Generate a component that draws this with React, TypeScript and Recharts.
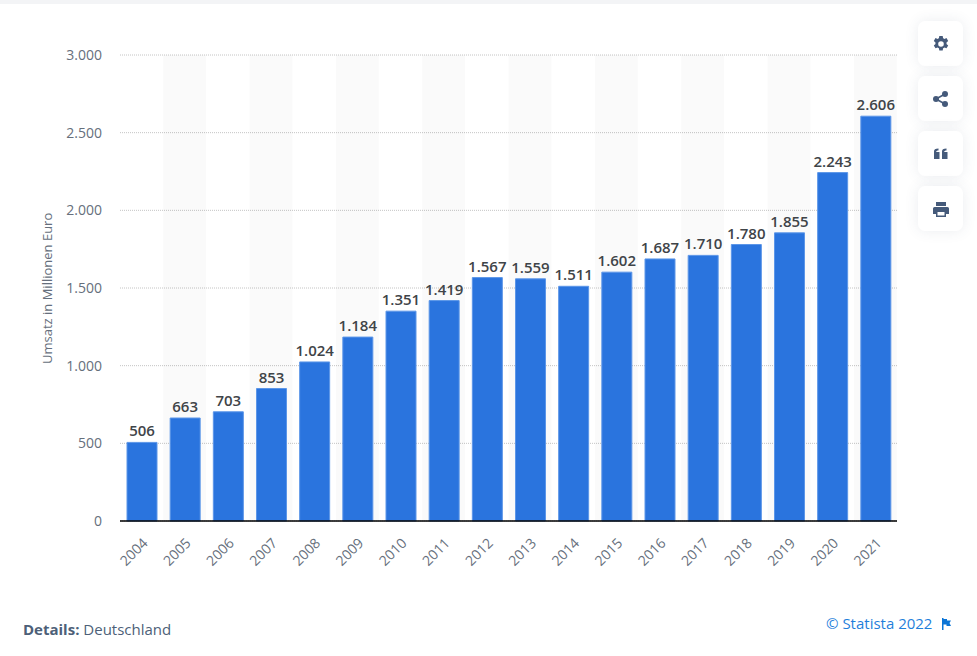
import React from 'react'
import { BarChart, Bar, XAxis, YAxis, CartesianGrid, LabelList } from 'recharts'

const years = ['2004', '2005', '2006', '2007', '2008', '2009', '2010', '2011', '2012', '2013', '2014', '2015', '2016', '2017', '2018', '2019', '2020', '2021']
const revenue = [506, 663, 703, 853, 1024, 1184, 1351, 1419, 1567, 1559, 1511, 1602, 1687, 1710, 1780, 1855, 2243, 2606]
const yTicks = [0, 500, 1000, 1500, 2000, 2500, 3000]
const yMax = 3000

const font = '"Open Sans", sans-serif'
const formatDe = (v: number) => v.toLocaleString('de-DE')

// every second year gets the pale background band
const data = years.map((year, i) => ({
  year,
  revenue: revenue[i],
  stripe: i % 2 === 1 ? yMax : null,
}))

const buttonIcons = [
  // gear
  <path key="gear" fillRule="evenodd" d="M7.3 0h3.4l.4 2.2c.5.2.9.4 1.3.7l2.1-.8 1.7 2.9-1.7 1.400a5 5 0 0 1 0 1.600l1.700 1.400-1.700 2.900-2.100-.8c-.4.3-.8.5-1.300.7l-.4 2.200H7.300l-.4-2.200c-.5-.2-.9-.4-1.300-.7l-2.100.8-1.700-2.900 1.700-1.400a5 5 0 0 1 0-1.600L1.800 5l1.700-2.900 2.100.8c.4-.3.8-.5 1.300-.7zM9 5.200a2.800 2.800 0 1 0 0 5.600 2.800 2.800 0 0 0 0-5.600z" />,
  // share
  <g key="share">
    <circle cx="4" cy="8" r="3" />
    <circle cx="13" cy="3" r="3" />
    <circle cx="13" cy="13" r="3" />
    <path d="M4 8l9-5M4 8l9 5" stroke="#455a7a" strokeWidth="1.6" />
  </g>,
  // quote
  <path key="quote" d="M2 5.500C2 3.800 3.200 2.500 6.500 2.500v2c-1.500 0-2.300.5-2.300 1.500H7.500v7H2zM10 5.500C10 3.800 11.200 2.500 14.500 2.500v2c-1.500 0-2.300.5-2.300 1.500h3.300v7H10z" />,
  // print
  <path key="print" fillRule="evenodd" d="M4 1h10v4H4zM2.500 6h13A1.500 1.500 0 0 1 17 7.500V13h-3v3H4v-3H1V7.500A1.500 1.500 0 0 1 2.500 6zM5.500 11v3.500h7V11z" />,
]
const buttonTops = [21, 76, 131, 186]

const App = () => {
  return (
    <div style={{ position: 'absolute', left: 0, top: 0, width: 977, height: 656, background: '#fff', overflow: 'hidden', fontFamily: font }}>
      {/* Grey strip above the card */}
      <div style={{ position: 'absolute', left: 0, top: 0, width: 977, height: 4, background: '#f3f4f6' }} />

      <BarChart
        width={977}
        height={656}
        data={data}
        margin={{ top: 55, right: 80, bottom: 105, left: 0 }}
        barCategoryGap="30%"
        style={{ position: 'absolute', left: 0, top: 0 }}
      >
        <CartesianGrid vertical={false} stroke="#c4c4c4" strokeDasharray="1 1" />
        <XAxis
          dataKey="year"
          interval={0}
          tickSize={0}
          tickMargin={16}
          angle={-45}
          textAnchor="end"
          axisLine={{ stroke: '#000', strokeWidth: 1.5 }}
          tick={{ fontFamily: font, fontSize: 14, fill: '#666f7c' }}
        />
        <XAxis xAxisId="bands" dataKey="year" hide />
        <YAxis
          width={120}
          domain={[0, yMax]}
          ticks={yTicks}
          interval={0}
          tickSize={0}
          tickMargin={18}
          axisLine={false}
          tickFormatter={formatDe}
          tick={{ fontFamily: font, fontSize: 14, fill: '#666f7c' }}
          label={{
            value: 'Umsatz in Millionen Euro',
            angle: -90,
            position: 'insideLeft',
            dx: 42,
            dy: 76,
            style: { fontFamily: font, fontSize: 13, fill: '#666f7c' },
          }}
        />
        <Bar xAxisId="bands" dataKey="stripe" barSize={43} fill="#000" fillOpacity={0.02} isAnimationActive={false} />
        <Bar dataKey="revenue" fill="#2a74de" stroke="#5c96e8" strokeWidth={1} barSize={30} isAnimationActive={false}>
          <LabelList
            dataKey="revenue"
            position="top"
            offset={6}
            formatter={formatDe}
            style={{ fontFamily: font, fontSize: 15, fontWeight: 600, fill: '#3f4448' }}
          />
        </Bar>
      </BarChart>

      {/* Side buttons */}
      {buttonTops.map((top, i) => (
        <div
          key={top}
          style={{
            position: 'absolute',
            left: 918,
            top,
            width: 45,
            height: 45,
            borderRadius: 7,
            background: '#fff',
            boxShadow: '0 0 14px rgba(60, 80, 110, 0.10)',
            display: 'flex',
            alignItems: 'center',
            justifyContent: 'center',
          }}
        >
          <svg width="18" height="16" viewBox="0 0 18 16" fill="#455a7a">
            {buttonIcons[i]}
          </svg>
        </div>
      ))}

      {/* Footer */}
      <div style={{ position: 'absolute', left: 23, top: 620, fontSize: 15, lineHeight: '19px', color: '#4d5f78', whiteSpace: 'nowrap' }}>
        <b style={{ fontWeight: 700 }}>Details:</b> Deutschland
      </div>
      <div style={{ position: 'absolute', left: 826, top: 614, fontSize: 15, lineHeight: '19px', color: '#1f7fdb', whiteSpace: 'nowrap' }}>
        © Statista 2022
      </div>
      <svg style={{ position: 'absolute', left: 941, top: 618 }} width="11" height="12" viewBox="0 0 11 12" fill="#0a74d6">
        <path d="M1 0h1.500v1H6v1.500h4L8.500 5 10 8H5.500V6.500h-3V12H1z" />
      </svg>
    </div>
  )
}

export default App
